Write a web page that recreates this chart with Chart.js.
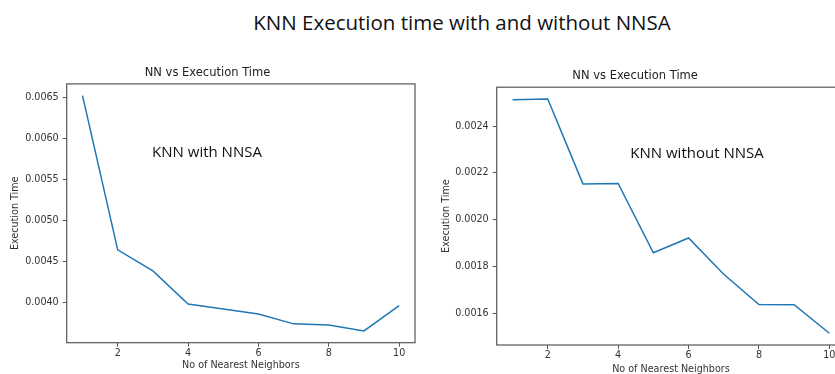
<!DOCTYPE html>
<html lang="en">
<head>
    <meta charset="UTF-8">
    <title>KNN Execution time with and without NNSA</title>
    <script src="https://cdn.jsdelivr.net/npm/chart.js"></script>
    <style>
        html, body {
            margin: 0;
            padding: 0;
            background: #fff;
            overflow: hidden;
        }
        .page {
            position: relative;
            width: 835px;
            height: 374px;
            overflow: hidden;
        }
        .page canvas {
            position: absolute;
        }
        .label {
            position: absolute;
            font-family: "Open Sans", sans-serif;
            color: #111;
            white-space: nowrap;
            transform: translate(-50%, -50%);
        }
        #mainTitle { left: 462px; top: 22px; font-size: 20.5px; }
        #noteWith { left: 207px; top: 151px; font-size: 15px; }
        #noteWithout { left: 697px; top: 152px; font-size: 15px; }
    </style>
</head>
<body>

<div class="page">
    <div class="label" id="mainTitle">KNN Execution time with and without NNSA</div>
    <canvas id="withChart" width="425" height="314" style="left:0; top:60px;"></canvas>
    <canvas id="withoutChart" width="430" height="318" style="left:425px; top:60px;"></canvas>
    <div class="label" id="noteWith">KNN with NNSA</div>
    <div class="label" id="noteWithout">KNN without NNSA</div>
</div>

<script>
    // number of nearest neighbours
    const neighbors = [1, 2, 3, 4, 5, 6, 7, 8, 9, 10];
    // execution time (s) with NNSA
    const timeWithNNSA = [0.00652, 0.004646, 0.00439, 0.003988, 0.003927, 0.003867, 0.003746, 0.003733, 0.00366, 0.003967];
    // execution time (s) without NNSA
    const timeWithoutNNSA = [0.002512, 0.002516, 0.002153, 0.002155, 0.001859, 0.001922, 0.001767, 0.001638, 0.001637, 0.001515];

    const xTicks = [2, 4, 6, 8, 10];
    const yTicksWith = [0.0040, 0.0045, 0.0050, 0.0055, 0.0060, 0.0065];
    const yTicksWithout = [0.0016, 0.0018, 0.0020, 0.0022, 0.0024];

    const plotTitle = "NN vs Execution Time";
    const xTitle = "No of Nearest Neighbors";
    const yTitle = "Execution Time";

    const axisColor = "#555";
    const textColor = "#333";
    const tickFont = { family: "DejaVu Sans", size: 9.6 };

    // draws the box round the plot area, like matplotlib
    const framePlugin = {
        id: "frame",
        afterDraw(chart) {
            const a = chart.chartArea;
            const ctx = chart.ctx;
            ctx.save();
            ctx.strokeStyle = axisColor;
            ctx.lineWidth = 1.2;
            ctx.strokeRect(a.left, a.top, a.right - a.left, a.bottom - a.top);
            ctx.restore();
        }
    };

    // margin of 5% like matplotlib
    function padRange(values) {
        const lo = Math.min(...values), hi = Math.max(...values);
        const m = (hi - lo) * 0.05;
        return [lo - m, hi + m];
    }

    function makeChart(id, values, yTicks, cfg) {
        const [ymin, ymax] = padRange(values);
        const [xmin, xmax] = padRange(neighbors);
        return new Chart(document.getElementById(id), {
            type: "line",
            data: {
                datasets: [{
                    data: neighbors.map((n, i) => ({ x: n, y: values[i] })),
                    borderColor: "#1f77b4",
                    borderWidth: 1.5,
                    pointRadius: 0,
                    tension: 0,
                    fill: false
                }]
            },
            options: {
                responsive: false,
                animation: false,
                layout: { padding: { left: 0, right: cfg.padRight, top: 0, bottom: 0 } },
                plugins: {
                    legend: { display: false },
                    tooltip: { enabled: false },
                    title: {
                        display: true,
                        text: plotTitle,
                        color: "#222",
                        font: { family: "DejaVu Sans", size: 11.5, weight: "normal" },
                        padding: { top: cfg.titleTop, bottom: cfg.titleBottom }
                    }
                },
                scales: {
                    x: {
                        type: "linear",
                        min: xmin,
                        max: xmax,
                        afterBuildTicks: s => { s.ticks = xTicks.map(v => ({ value: v })); },
                        afterFit: s => { s.height = cfg.xHeight; },
                        grid: { display: true, drawOnChartArea: false, drawTicks: true, tickLength: 4, color: axisColor },
                        border: { display: false },
                        ticks: { color: textColor, font: tickFont, padding: 1, autoSkip: false, maxRotation: 0 },
                        title: {
                            display: true,
                            text: xTitle,
                            color: textColor,
                            font: tickFont,
                            padding: { top: 0, bottom: cfg.xTitlePad }
                        }
                    },
                    y: {
                        type: "linear",
                        min: ymin,
                        max: ymax,
                        afterBuildTicks: s => { s.ticks = yTicks.map(v => ({ value: v })); },
                        afterFit: s => { s.width = cfg.yWidth; },
                        grid: { display: true, drawOnChartArea: false, drawTicks: true, tickLength: 4, color: axisColor },
                        border: { display: false },
                        ticks: {
                            color: textColor,
                            font: tickFont,
                            padding: 4,
                            autoSkip: false,
                            callback: v => v.toFixed(4)
                        },
                        title: {
                            display: true,
                            text: yTitle,
                            color: textColor,
                            font: tickFont,
                            padding: { top: cfg.yTitlePad, bottom: 0 }
                        }
                    }
                }
            },
            plugins: [framePlugin]
        });
    }

    makeChart("withChart", timeWithNNSA, yTicksWith, {
        padRight: 10, titleTop: 6.4, titleBottom: 3.7,
        xHeight: 31.3, xTitlePad: 2.6, yWidth: 66.7, yTitlePad: 9.6
    });

    makeChart("withoutChart", timeWithoutNNSA, yTicksWithout, {
        padRight: 9.8, titleTop: 9.4, titleBottom: 4,
        xHeight: 33, xTitlePad: 2.6, yWidth: 71.7, yTitlePad: 15.3
    });
</script>

</body>
</html>
